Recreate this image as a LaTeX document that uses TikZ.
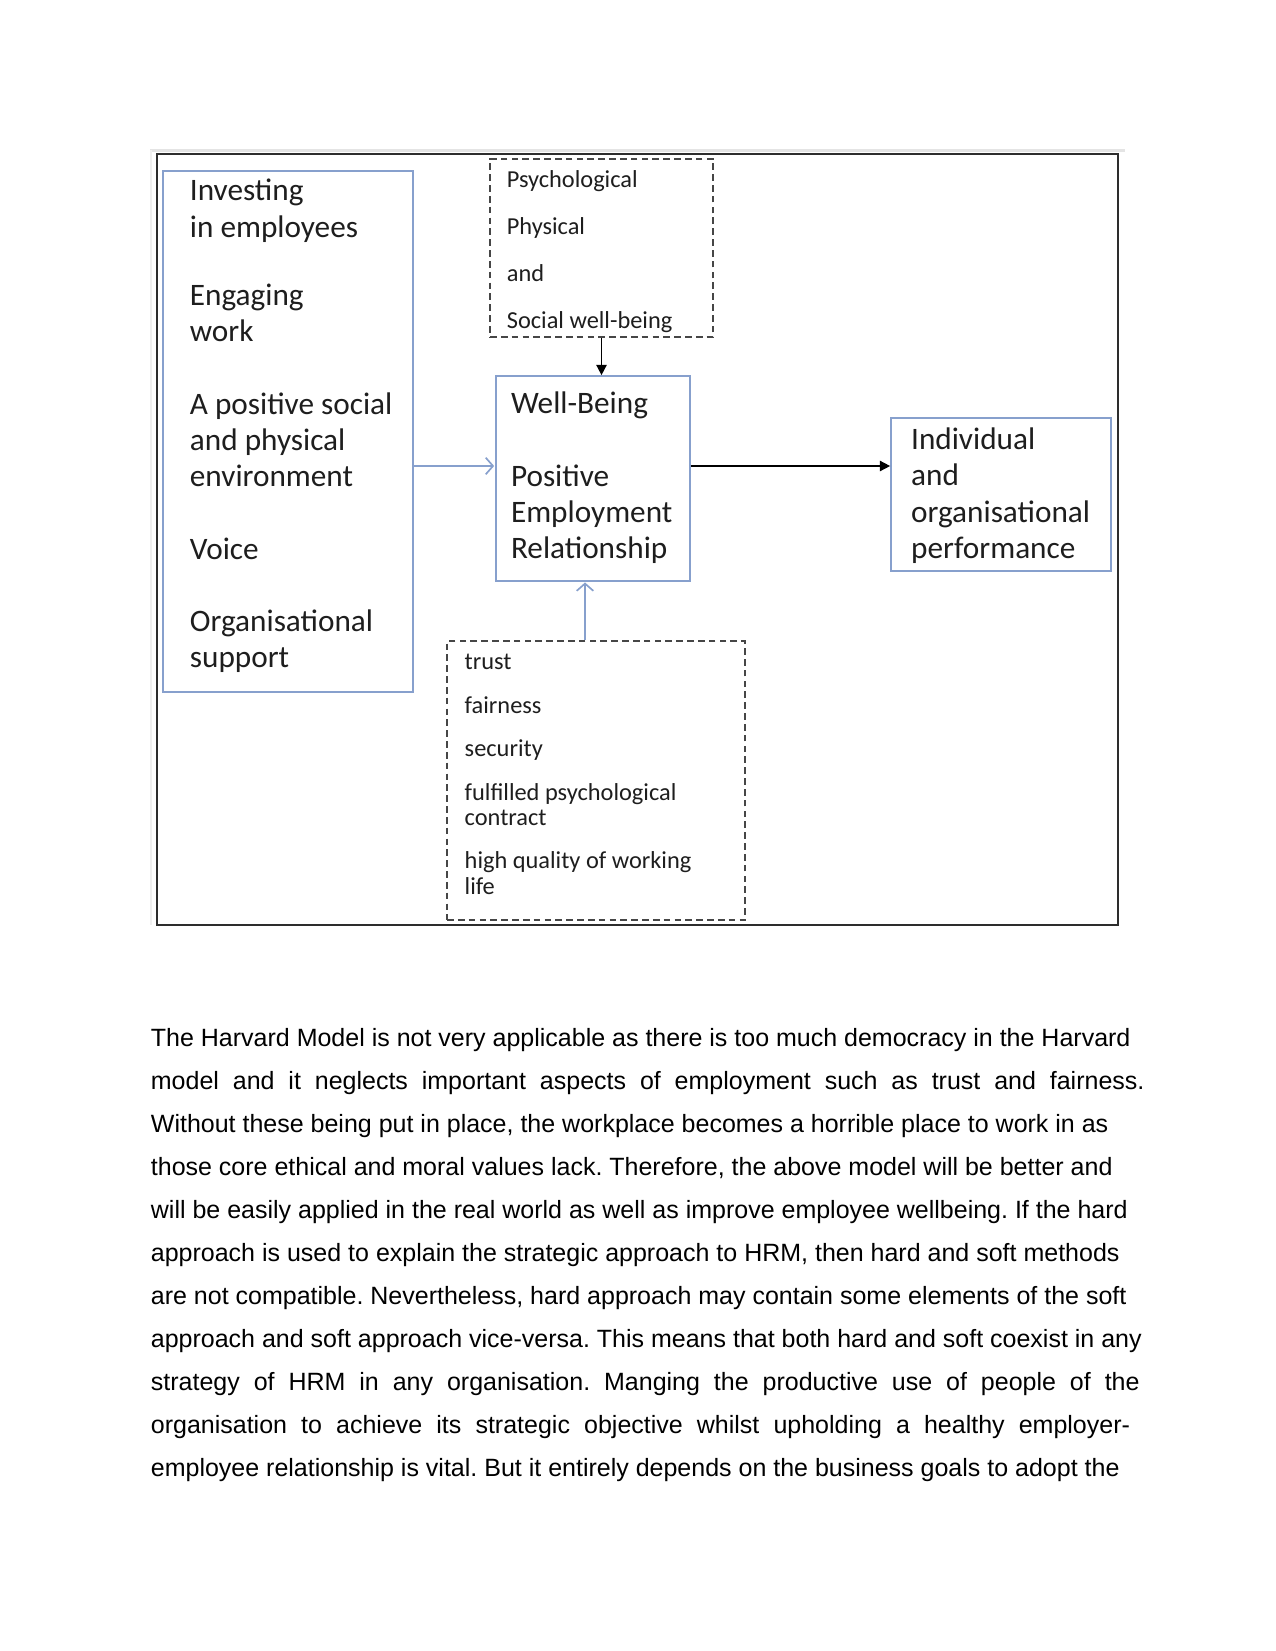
\documentclass[tikz,border=0pt]{standalone}
\usepackage{fontspec}
\setmainfont{Liberation Sans}
\newfontfamily\calfont{Carlito}
\usetikzlibrary{arrows.meta,fit}
\definecolor{boxblue}{RGB}{135,160,205}
\definecolor{inkc}{RGB}{30,30,30}
\definecolor{framec}{RGB}{45,45,45}
\definecolor{dashc}{RGB}{70,70,70}
\definecolor{shadec}{RGB}{228,228,228}
\newcommand{\normsp}{\frenchspacing\spaceskip=0pt\xspaceskip=0pt\relax}
\tikzset{
  framebox/.style={draw=framec, line width=1pt, inner sep=0pt},
  bluebox/.style={draw=boxblue, line width=0.8pt, inner sep=0pt},
  dashbox/.style={draw=dashc, line width=0.75pt, dash pattern=on 3.2pt off 2pt, inner sep=0pt},
  bigtext/.style={anchor=base west, inner sep=0pt, align=left, text width=120pt, text=inkc,
    font=\calfont\fontsize{15}{17.42}\selectfont},
  toptext/.style={anchor=base west, inner sep=0pt, align=left, text width=100pt, text=inkc,
    font=\calfont\fontsize{11.7}{22.56}\selectfont},
  bottext/.style={anchor=base west, inner sep=0pt, align=left, text width=130pt, text=inkc,
    font=\calfont\fontsize{11.7}{12.1}\selectfont},
  bodytext/.style={anchor=base west, inner sep=0pt, align=left, text width=500pt, text=black,
    font=\fontsize{12}{20.67}\selectfont},
  bluearrow/.style={draw=boxblue, line width=0.8pt, -{Straight Barb[length=3.5pt,width=8pt]}},
  blackarrow/.style={draw=black, line width=0.75pt, -{Triangle[length=5pt,width=5pt]}}
}
\begin{document}
\begin{tikzpicture}[x=0.48pt,y=-0.48pt]
\useasboundingbox[fill=white] (0,0) rectangle (1275,1651);
% light shade above the frame
\draw[shadec, line width=1.8pt] (150,150.5) -- (1125,150.5);
\draw[shadec!60, line width=1pt] (151,150.5) -- (151,925);
% frame and boxes
\node[framebox, fit={(157,154) (1118,925)}] (frame) {};
\node[bluebox, fit={(163,171) (413,692)}] (lb) {};
\node[dashbox, fit={(490,159) (713,337)}] (td) {};
\node[bluebox, fit={(496,376) (690,581)}] (wb) {};
\node[bluebox, fit={(891,418) (1111,571)}] (rb) {};
\node[dashbox, fit={(447,641) (745,920)}] (bd) {};
% texts
\node[bigtext] (lbt) at (189.5,200.8) {\normsp Investing\\in employees\\[15.5pt]Engaging\\work\\[17.3pt]A positive social\\and physical\\environment\\[17.3pt]Voice\\[17.2pt]Organisational\\support};
\node[bigtext] (wbt) at (510.6,413.8) {\normsp Well-Being\\[17.42pt]Positive\\Employment\\Relationship};
\node[bigtext] (rbt) at (910.7,449.6) {\normsp Individual\\and\\organisational\\performance};
\node[toptext] (tdt) at (506.4,187.8) {\normsp Psychological\\Physical\\and\\Social well-being};
\node[bottext] (bdt) at (464.3,669.6) {\normsp trust\\[8.8pt]fairness\\[8.8pt]security\\[8.8pt]fulfilled psychological\\contract\\[8.8pt]high quality of working\\life};
% connectors
\coordinate (ay) at (0,466);
\coordinate (bx) at (585,0);
\draw[bluearrow, shorten >=0.5pt] (lb.east |- ay) -- (wb.west |- ay);
\draw[blackarrow] (wb.east |- ay) -- (rb.west |- ay);
\draw[blackarrow] (td.south) -- (td.south |- wb.north);
\draw[bluearrow, shorten >=0.3pt] (bd.north -| bx) -- (wb.south -| bx);
% body text
\node[bodytext] (body) at (150.5,1046) {\normsp The Harvard Model is not very applicable as there is too much democracy in the Harvard\\
\makebox[476.9pt][s]{model and it neglects important aspects of employment such as trust and fairness.}\\
Without these being put in place, the workplace becomes a horrible place to work in as\\
those core ethical and moral values lack. Therefore, the above model will be better and\\
will be easily applied in the real world as well as improve employee wellbeing. If the hard\\
approach is used to explain the strategic approach to HRM, then hard and soft methods\\
are not compatible. Nevertheless, hard approach may contain some elements of the soft\\
approach and soft approach vice-versa. This means that both hard and soft coexist in any\\
\makebox[474.6pt][s]{strategy of HRM in any organisation. Manging the productive use of people of the}\\
\makebox[470pt][s]{organisation to achieve its strategic objective whilst upholding a healthy employer-}\\
employee relationship is vital. But it entirely depends on the business goals to adopt the};
\end{tikzpicture}
\end{document}
